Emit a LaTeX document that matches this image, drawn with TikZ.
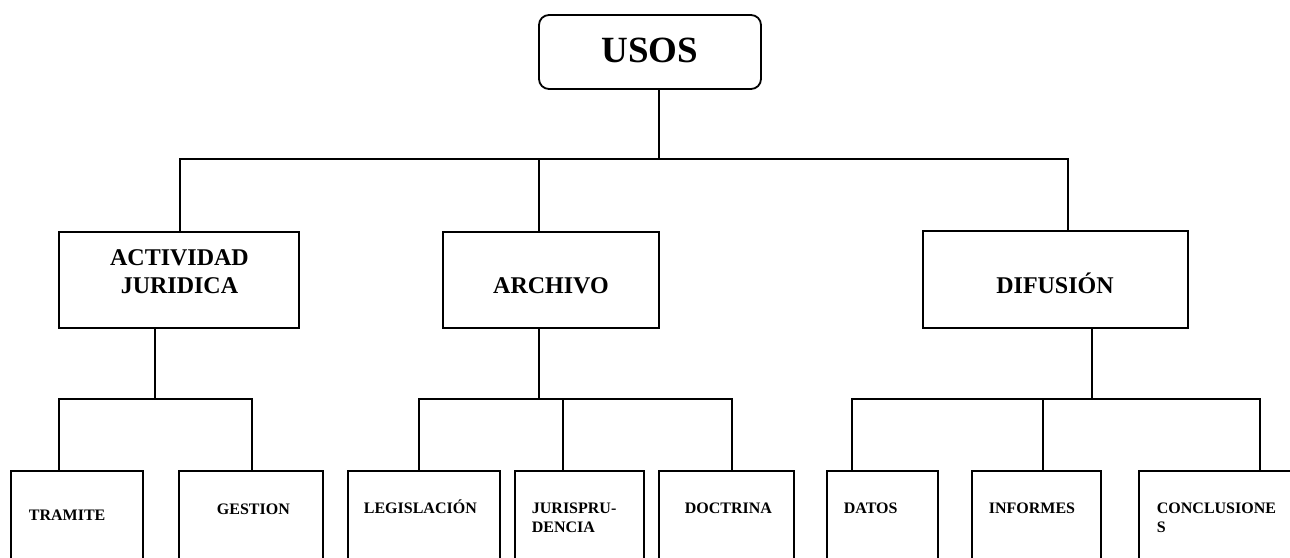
\documentclass[tikz,border=0pt]{standalone}
\usepackage{fontspec}
\setmainfont{Liberation Serif}
\begin{document}
\begin{tikzpicture}[x=1pt,y=-1pt,
  line width=1.8pt,
  box/.style={draw=black, rectangle, inner sep=0pt},
  topbox/.style={box, rounded corners=10pt},
  bigtxt/.style={inner sep=0pt, anchor=base, font=\bfseries\fontsize{37}{40}\selectfont},
  midtxt/.style={inner sep=0pt, anchor=base, font=\bfseries\fontsize{24}{28}\selectfont},
  smalltxt/.style={inner sep=0pt, anchor=base west, font=\bfseries\fontsize{16}{19}\selectfont},
]
\useasboundingbox (0,0) rectangle (1290,557);
\clip (0,0) rectangle (1290,557);

% ---- root ----
\node[topbox, minimum width=222pt, minimum height=74pt] (usos) at (650,52) {};
\node[bigtxt] (usosT) at (650,62) {USOS};

% ---- first level ----
\node[box, minimum width=240pt, minimum height=96pt] (act)  at (179,280) {};
\node[box, minimum width=216pt, minimum height=96pt] (arch) at (551,280) {};
\node[box, minimum width=265pt, minimum height=97pt] (dif)  at (1055.5,279.5) {};
\node[midtxt] (actT1) at (179.5,265) {ACTIVIDAD};
\node[midtxt] (actT2) at (179.5,293) {JURIDICA};
\node[midtxt] (archT) at (551,293) {ARCHIVO};
\node[midtxt] (difT)  at (1055,293) {DIFUSIÓN};

% ---- second level (open towards the bottom edge) ----
\node[box, minimum width=132pt, minimum height=129pt] (tram)  at (77,535.5) {};
\node[box, minimum width=144pt, minimum height=129pt] (gest)  at (251,535.5) {};
\node[box, minimum width=152pt, minimum height=129pt] (legis) at (424,535.5) {};
\node[box, minimum width=129pt, minimum height=129pt] (juris) at (579.5,535.5) {};
\node[box, minimum width=135pt, minimum height=129pt] (doct)  at (726.5,535.5) {};
\node[box, minimum width=111pt, minimum height=129pt] (datos) at (882.5,535.5) {};
\node[box, minimum width=129pt, minimum height=129pt] (inf)   at (1036.5,535.5) {};
\node[box, minimum width=180pt, minimum height=129pt] (concl) at (1229,535.5) {};

\node[smalltxt] (tramT)   at (28,520)  {TRAMITE};
\node[smalltxt] (gestT)   at (216,514) {GESTION};
\node[smalltxt] (legisT)  at (363,513) {LEGISLACIÓN};
\node[smalltxt] (jurisT1) at (531,513) {JURISPRU-};
\node[smalltxt] (jurisT2) at (531,532) {DENCIA};
\node[smalltxt] (doctT)   at (684,513) {DOCTRINA};
\node[smalltxt] (datosT)  at (843,513) {DATOS};
\node[smalltxt] (infT)    at (988,513) {INFORMES};
\node[smalltxt] (conclT1) at (1156,513) {CONCLUSIONE};
\node[smalltxt] (conclT2) at (1156,532) {S};

% ---- junction points ----
\coordinate (t0) at (659,159);
\coordinate (ta) at (180,159);
\coordinate (tb) at (539,159);
\coordinate (tc) at (1068,159);

\coordinate (la) at (155,399);
\coordinate (l1) at (59,399);
\coordinate (l2) at (252,399);

\coordinate (ma) at (539,399);
\coordinate (m1) at (419,399);
\coordinate (m2) at (563,399);
\coordinate (m3) at (732,399);

\coordinate (ra) at (1092,399);
\coordinate (r1) at (852,399);
\coordinate (r2) at (1043,399);
\coordinate (r3) at (1260,399);

% ---- connectors: root to first level ----
\draw (usos.south -| t0) -- (t0);
\draw (act.north -| ta) -- (ta) -- (tc) -- (dif.north -| tc);
\draw (tb) -- (arch.north -| tb);

% ---- connectors: first to second level ----
\draw (act.south -| la) -- (la);
\draw (tram.north -| l1) -- (l1) -- (l2) -- (gest.north -| l2);

\draw (arch.south -| ma) -- (ma);
\draw (legis.north -| m1) -- (m1) -- (m3) -- (doct.north -| m3);
\draw (m2) -- (juris.north -| m2);

\draw (dif.south -| ra) -- (ra);
\draw (datos.north -| r1) -- (r1) -- (r3) -- (concl.north -| r3);
\draw (r2) -- (inf.north -| r2);
\end{tikzpicture}
\end{document}
